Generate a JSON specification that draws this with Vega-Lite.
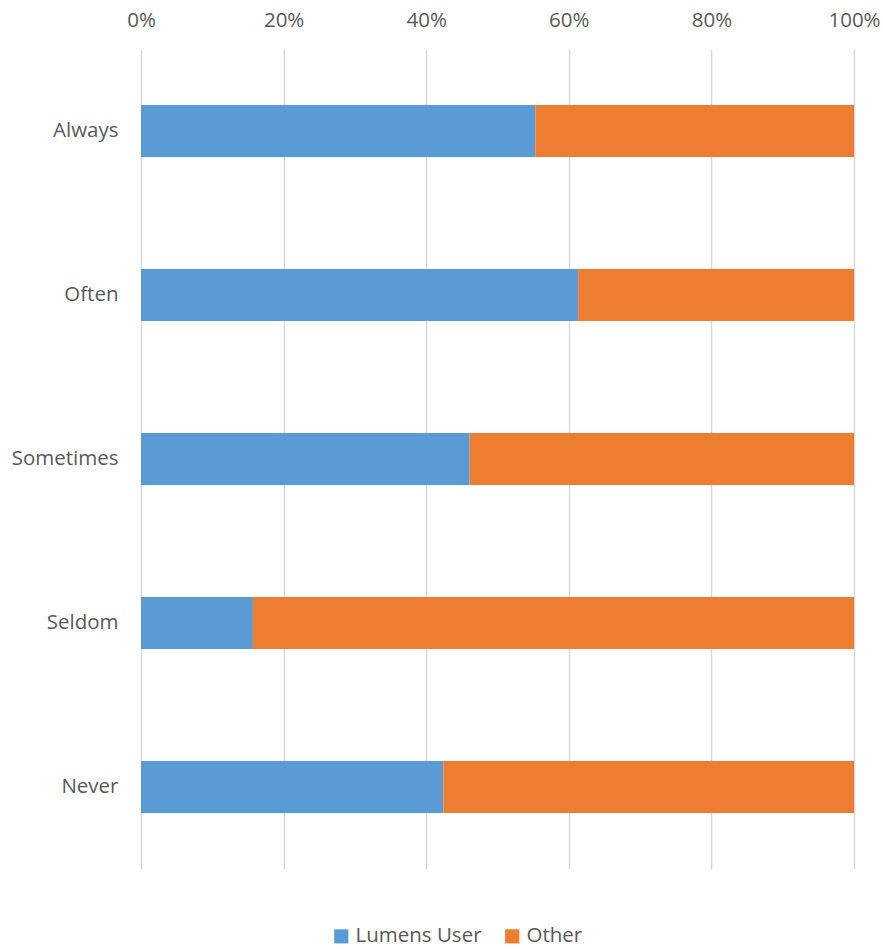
{
  "$schema": "https://vega.github.io/schema/vega-lite/v6.json",
  "width": 713,
  "height": 820,
  "autosize": {"type": "none"},
  "padding": {"left": 141, "top": 49, "right": 29, "bottom": 80},
  "background": "white",
  "config": {
    "view": {"stroke": null},
    "font": "Open Sans",
    "axis": {"labelFont": "Open Sans", "labelColor": "#595959", "labelFontSize": 20.5},
    "legend": {"labelFont": "Open Sans", "labelColor": "#595959", "labelFontSize": 20.5}
  },
  "data": {
    "values": [
      {"response": "Always", "group": "Lumens User", "share": 55.3, "ord": 1},
      {"response": "Always", "group": "Other", "share": 44.7, "ord": 2},
      {"response": "Often", "group": "Lumens User", "share": 61.3, "ord": 1},
      {"response": "Often", "group": "Other", "share": 38.7, "ord": 2},
      {"response": "Sometimes", "group": "Lumens User", "share": 46.1, "ord": 1},
      {"response": "Sometimes", "group": "Other", "share": 53.9, "ord": 2},
      {"response": "Seldom", "group": "Lumens User", "share": 15.7, "ord": 1},
      {"response": "Seldom", "group": "Other", "share": 84.3, "ord": 2},
      {"response": "Never", "group": "Lumens User", "share": 42.4, "ord": 1},
      {"response": "Never", "group": "Other", "share": 57.6, "ord": 2}
    ]
  },
  "mark": {"type": "bar"},
  "encoding": {
    "y": {
      "field": "response",
      "type": "nominal",
      "sort": ["Always", "Often", "Sometimes", "Seldom", "Never"],
      "scale": {"paddingInner": 0.683, "paddingOuter": 0.3415},
      "axis": {"title": null, "domain": false, "ticks": false, "labelPadding": 23, "grid": false}
    },
    "x": {
      "field": "share",
      "type": "quantitative",
      "stack": "normalize",
      "scale": {"domain": [0, 1], "nice": false},
      "axis": {
        "orient": "top",
        "title": null,
        "format": "%",
        "values": [0, 0.2, 0.4, 0.6, 0.8, 1],
        "domain": false,
        "ticks": false,
        "labelFlush": false,
        "labelPadding": 19,
        "grid": true,
        "gridColor": "#d9d9d9",
        "gridWidth": 1.5
      }
    },
    "color": {
      "field": "group",
      "type": "nominal",
      "scale": {"domain": ["Lumens User", "Other"], "range": ["#5b9bd5", "#ed7d31"]},
      "legend": {
        "title": null,
        "orient": "none",
        "direction": "horizontal",
        "legendX": 190,
        "legendY": 877,
        "symbolType": "square",
        "symbolSize": 200,
        "symbolStrokeWidth": 0,
        "labelOffset": 4,
        "columnPadding": 20
      }
    },
    "order": {"field": "ord", "type": "quantitative"}
  }
}
